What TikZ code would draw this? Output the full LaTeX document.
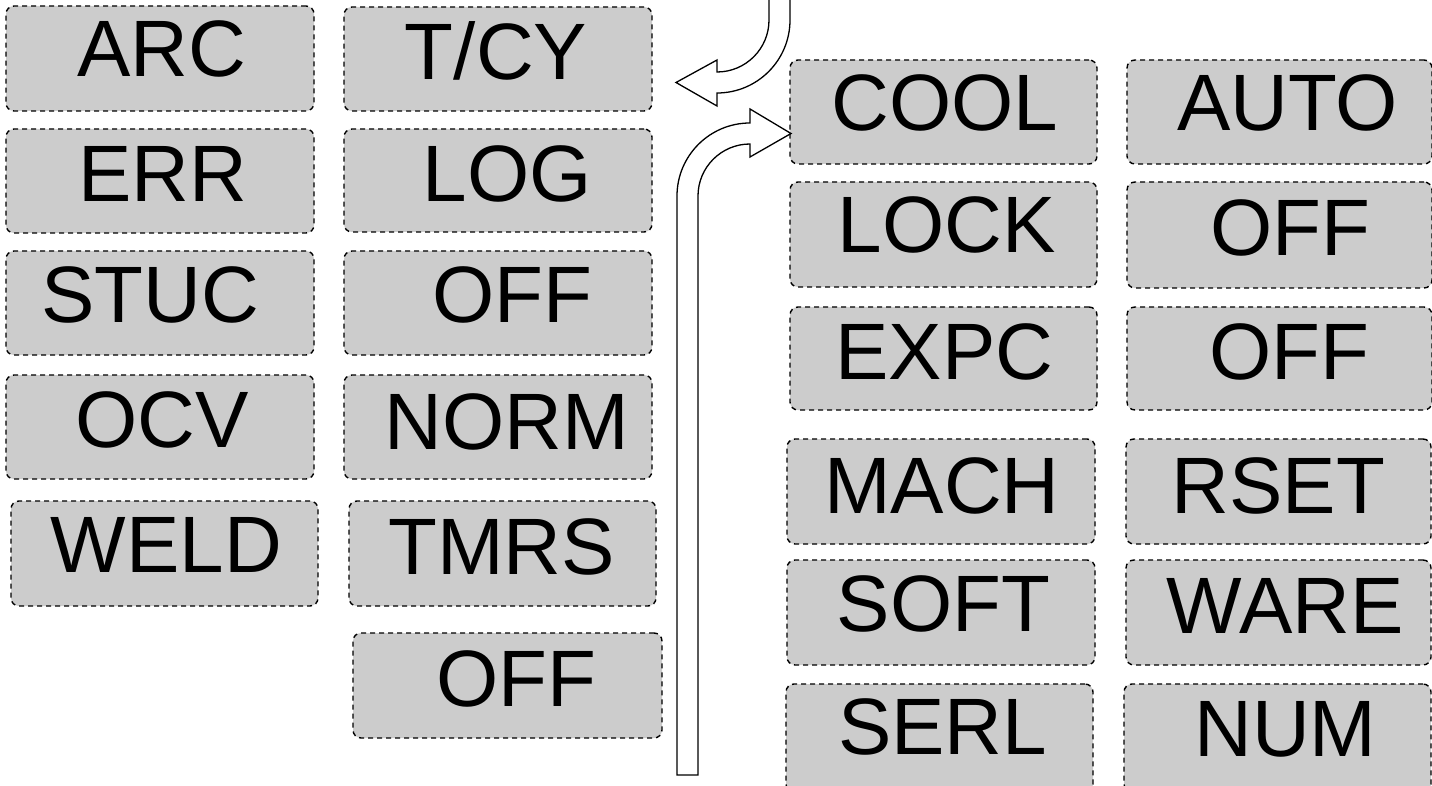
\documentclass[tikz,border=0pt]{standalone}
\usepackage{fontspec}
\setmainfont{Liberation Sans}
\definecolor{cellgray}{HTML}{CCCCCC}
\tikzset{
  cellbox/.style={draw=black, fill=cellgray, rounded corners=8pt, line width=1.4pt,
    dash pattern=on 5pt off 4pt, inner sep=0pt, outer sep=0pt},
  celltext/.style={inner sep=0pt, outer sep=0pt, font=\fontsize{80}{96}\selectfont},
  hollowarrow/.style={draw=black, fill=white, line width=1.3pt, line join=miter}
}
\newcommand\cell[8]{%
  \node[cellbox, minimum width={#4-#2}, minimum height={#5-#3}] (#1) at ({(#2+#4)/2},{-(#3+#5)/2}) {};
  \node[celltext, anchor=base] (#1-t) at ({(#2+#4)/2+#6},{-#3-#7}) {#8};
}
\begin{document}
\begin{tikzpicture}[x=1pt,y=1pt]
\useasboundingbox (0,0) rectangle (1432,-786);
\clip (0,0) rectangle (1432,-786);
% column 1
\cell{arc}{6}{6}{314}{111}{2}{71}{ARC}
\cell{err}{6}{129}{314}{233}{3}{73}{ERR}
\cell{stuc}{6}{251}{314}{355}{-10}{71}{STUC}
\cell{ocv}{6}{375}{314}{479}{2}{72}{OCV}
\cell{weld}{11}{501}{318}{606}{2}{71}{WELD}
% column 2
\cell{tcy}{344}{7}{652}{111}{-2}{73}{T/CY}
\cell{log}{344}{129}{652}{232}{9}{73}{LOG}
\cell{offa}{344}{251}{652}{355}{14}{72}{OFF}
\cell{norm}{344}{375}{652}{479}{9}{74}{NORM}
\cell{tmrs}{349}{501}{656}{606}{-1}{73}{TMRS}
\cell{offb}{353}{633}{662}{738}{9}{73.5}{OFF}
% column 3
\cell{cool}{790}{60}{1097}{164}{1.5}{71}{COOL}
\cell{lock}{790}{182}{1097}{287}{3}{71}{LOCK}
\cell{expc}{790}{307}{1097}{410}{1}{72}{EXPC}
\cell{mach}{787}{439}{1095}{544}{1}{74}{MACH}
\cell{soft}{787}{560}{1095}{665}{2.5}{71}{SOFT}
\cell{serl}{786}{684}{1093}{792}{3}{70}{SERL}
% column 4
\cell{auto}{1127}{60}{1432}{164}{8}{71}{AUTO}
\cell{offc}{1127}{182}{1432}{288}{11}{74}{OFF}
\cell{offd}{1127}{307}{1432}{410}{10}{72}{OFF}
\cell{rset}{1126}{439}{1431}{544}{0}{74}{RSET}
\cell{ware}{1126}{560}{1431}{665}{7}{73}{WARE}
\cell{num}{1124}{684}{1431}{792}{8}{72.5}{NUM}
% top arrow (comes in from above, points left toward T/CY)
\coordinate (tipA) at (676,-82.5);
\filldraw[hollowarrow] (769,2) -- (769,-20)
  arc[start angle=0, end angle=-90, radius=52] -- (717,-60) -- (tipA)
  -- (717,-106) -- (717,-93)
  arc[start angle=-90, end angle=0, radius=73] -- (790,2);
% bottom arrow (rises from below, points right into COOL)
\coordinate (tipB) at (791,-133.5);
\filldraw[hollowarrow] (677,-775) -- (677,-196)
  arc[start angle=180, end angle=90, radius=73] -- (750,-109) -- (tipB)
  -- (750,-157) -- (750,-144)
  arc[start angle=90, end angle=180, radius=52] -- (698,-775) -- cycle;
\end{tikzpicture}
\end{document}
